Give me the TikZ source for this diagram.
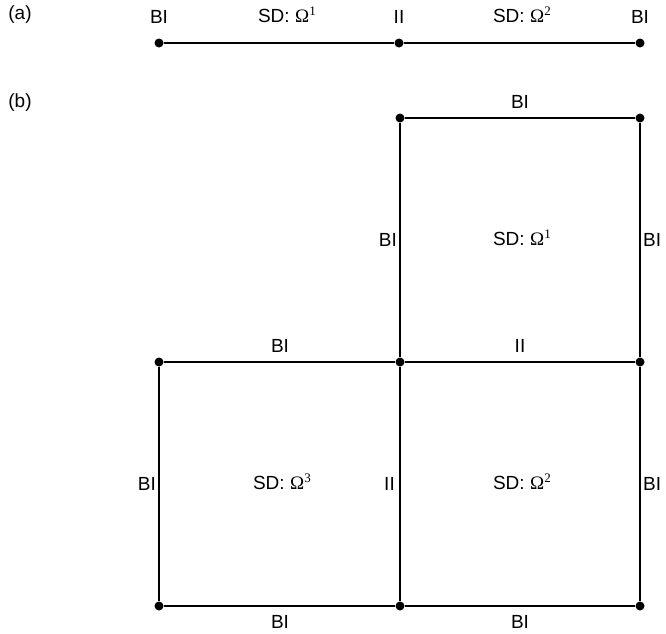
\documentclass[tikz,border=0pt]{standalone}
\usepackage{fontspec}
\setmainfont{Liberation Sans}
\newfontfamily\serifomega{Liberation Serif}
\newcommand{\Om}[1]{{\serifomega Ω}\kern0.3pt\raisebox{7.5pt}{\serifomega\fontsize{13}{13}\selectfont #1}}
\begin{document}
\begin{tikzpicture}[x=1pt,y=-1pt,
  lbl/.style={font=\fontsize{19}{21}\selectfont, inner sep=1pt},
  vtx/.style={circle, fill=black, inner sep=0pt, minimum size=9pt},
  edge/.style={line width=2.2pt}]
\useasboundingbox (0,0) rectangle (666,633);
% (a)
\node[lbl] at (20,15) {(a)};
\node[vtx] (a1) at (159,43) {};
\node[vtx] (a2) at (399,43) {};
\node[vtx] (a3) at (640,43) {};
\draw[edge] (a1) -- (a2) -- (a3);
\node[lbl] (la1) at (159,17) {BI};
\node[lbl] (la2) at (287,15) {SD: \Om{1}};
\node[lbl] (la3) at (399,17) {II};
\node[lbl] (la4) at (522,15) {SD: \Om{2}};
\node[lbl] (la5) at (640,17) {BI};
% (b)
\node[lbl] at (20,103) {(b)};
\node[vtx] (p1) at (400,118) {};
\node[vtx] (p2) at (640,118) {};
\node[vtx] (p3) at (159,362) {};
\node[vtx] (p4) at (400,362) {};
\node[vtx] (p5) at (640,362) {};
\node[vtx] (p6) at (159,606) {};
\node[vtx] (p7) at (400,606) {};
\node[vtx] (p8) at (640,606) {};
\draw[edge] (p1) -- (p2);
\draw[edge] (p1) -- (p4);
\draw[edge] (p2) -- (p5);
\draw[edge] (p3) -- (p4);
\draw[edge] (p4) -- (p5);
\draw[edge] (p3) -- (p6);
\draw[edge] (p4) -- (p7);
\draw[edge] (p5) -- (p8);
\draw[edge] (p6) -- (p7);
\draw[edge] (p7) -- (p8);
\node[lbl] (b1) at (520,102) {BI};
\node[lbl, anchor=east] (b2) at (398,240) {BI};
\node[lbl, anchor=west] (b3) at (642,240) {BI};
\node[lbl] (b4) at (522,238) {SD: \Om{1}};
\node[lbl] (b5) at (280,346) {BI};
\node[lbl] (b6) at (520,346) {II};
\node[lbl, anchor=east] (b7) at (157,484) {BI};
\node[lbl] (b8) at (282,482) {SD: \Om{3}};
\node[lbl, anchor=east] (b9) at (396,484) {II};
\node[lbl] (b10) at (522,482) {SD: \Om{2}};
\node[lbl, anchor=west] (b11) at (642,484) {BI};
\node[lbl] (b12) at (280,622) {BI};
\node[lbl] (b13) at (520,622) {BI};
\end{tikzpicture}
\end{document}
